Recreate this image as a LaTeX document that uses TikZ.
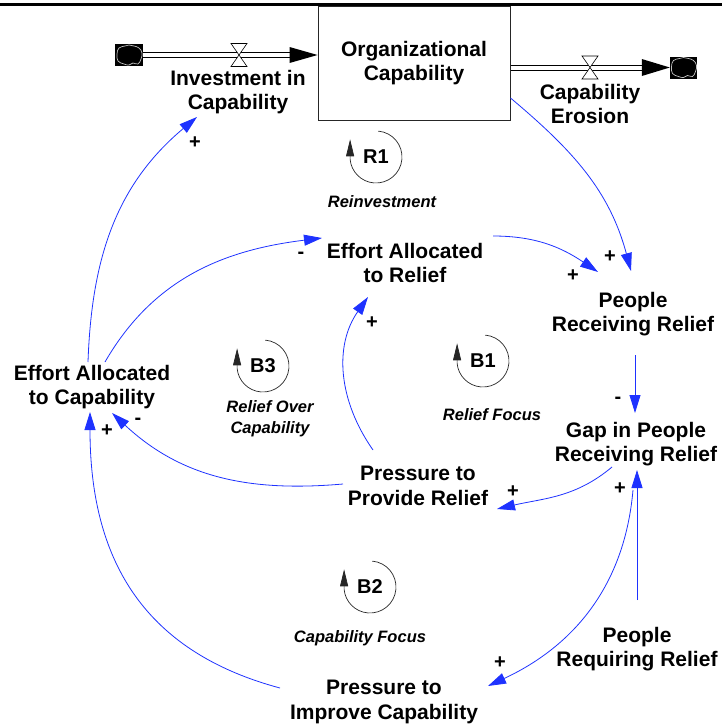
\documentclass[tikz,border=0pt]{standalone}
\usepackage{fontspec}
\setmainfont{Liberation Sans}
\usetikzlibrary{arrows.meta,calc}
\definecolor{linkblue}{RGB}{30,50,255}
\begin{document}
\begin{tikzpicture}[x=1pt,y=1pt,
  var/.style={font=\bfseries\fontsize{21}{24.5}\selectfont,align=center,inner sep=0pt},
  lbl/.style={font=\bfseries\itshape\fontsize{16.5}{21}\selectfont,align=center,inner sep=0pt},
  loopid/.style={font=\bfseries\fontsize{20}{24}\selectfont,inner sep=0pt},
  sgn/.style={font=\bfseries\fontsize{20}{24}\selectfont,inner sep=0pt},
  link/.style={draw=linkblue,line width=0.8pt,-{Triangle[length=18pt,width=11pt]}},
  loopline/.style={draw=black!85,line width=0.7pt,-{Triangle[length=17pt,width=8pt]}},
  pipeline/.style={draw=black,line width=0.8pt},
  valve/.style={draw=black,fill=white,line width=0.6pt},
  cloudbox/.style={fill=black,minimum width=28pt,minimum height=22pt,inner sep=0pt},
  puff/.style={draw=black!25,line width=0.7pt}
]
\useasboundingbox (0,0) rectangle (722,-728);
\draw[line width=3.4pt] (0,-4.3) -- (722,-4.3);

% stock
\node[var,draw=black!85,line width=1pt,minimum width=192pt,minimum height=114pt] (stock) at (414,-63) {Organizational\\Capability};

% clouds
\node[cloudbox] (cl) at (129,-55) {};
\node[cloudbox,minimum width=27pt] (cr) at (683.5,-67.5) {};
\foreach \c in {cl,cr}{
  \begin{scope}[shift={(\c.center)}]
    \draw[puff] plot[smooth cycle,tension=0.7] coordinates {(-12,1) (-10,7) (-4,9) (0,10) (5,9) (10,7) (13,2) (12,-4) (9,-9) (4,-8) (0,-10) (-5,-9) (-11,-6)};
  \end{scope}
}

% variables
\node[var] (inv) at (238,-92) {Investment in\\Capability};
\node[var] (ero) at (590,-104) {Capability\\Erosion};
\node[var] (ear) at (405,-263) {Effort Allocated\\to Relief};
\node[var] (prr) at (633,-314) {People\\Receiving Relief};
\node[var] (gap) at (636,-444) {Gap in People\\Receiving Relief};
\node[var] (ppr) at (418,-486) {Pressure to\\Provide Relief};
\node[var] (eac) at (92,-387) {Effort Allocated\\to Capability};
\node[var] (preq) at (637,-649) {People\\Requiring Relief};
\node[var] (pic) at (384,-702) {Pressure to\\Improve Capability};

% pipes
\coordinate (pL) at (cl.east -| stock.west);
\draw[pipeline] ([yshift=2.5]cl.east) -- ([shift={(-27,2.5)}]pL);
\draw[pipeline] ([yshift=-2.5]cl.east) -- ([shift={(-27,-2.5)}]pL);
\fill ([shift={(-28,8)}]pL) -- (pL) -- ([shift={(-28,-8)}]pL) -- cycle;
\coordinate (pR) at (stock.east |- cr.west);
\draw[pipeline] ([yshift=2.5]pR) -- ([shift={(-27,2.5)}]cr.west);
\draw[pipeline] ([yshift=-2.5]pR) -- ([shift={(-27,-2.5)}]cr.west);
\fill ([shift={(-28,8.5)}]cr.west) -- (cr.west) -- ([shift={(-28,-8.5)}]cr.west) -- cycle;

% valves
\coordinate (vL) at ([xshift=1]inv |- cl);
\coordinate (vR) at (ero |- cr);
\foreach \v in {vL,vR}{
  \draw[valve] ([shift={(-8,11.5)}]\v) -- ([shift={(8,11.5)}]\v) -- (\v) -- cycle;
  \draw[valve] ([shift={(-8,-11.5)}]\v) -- ([shift={(8,-11.5)}]\v) -- (\v) -- cycle;
}

% causal links
\draw[link] ([shift={(-4,25)}]eac.center) to[out=88,in=-140] ([shift={(-41,-25)}]inv.center);
\draw[link] ([shift={(13,25)}]eac.center) to[out=60,in=187] ([shift={(-83,25)}]ear.center);
\draw[link] ([shift={(88,27)}]ear.center) to[out=0,in=146] ([shift={(-35,42)}]prr.center);
\draw[link] ([shift={(0,-35)}]stock.east) to[out=-40,in=105] ([shift={(-2,43)}]prr.center);
\draw[link] ([shift={(2,-41)}]prr.center) -- ([shift={(-1,31)}]gap.center);
\draw[link] ([shift={(-24,-23)}]gap.center) to[out=-140,in=13] ([shift={(79,-23)}]ppr.center);
\draw[link] ([shift={(0,49)}]preq.center) -- ([shift={(1,-26)}]gap.center);
\draw[link] ([shift={(-3,-46)}]gap.center) to[out=-95,in=25] ([shift={(104,16)}]pic.center);
\draw[link] ([shift={(-104,14)}]pic.center) to[out=165,in=-90,looseness=1.1] ([shift={(-2,-25)}]eac.center);
\draw[link] ([shift={(-75,2)}]ppr.center) to[out=185,in=-43] ([shift={(20,-26)}]eac.center);
\draw[link] ([shift={(-45,36)}]ppr.center) to[out=125,in=-125] ([shift={(-37,-34)}]ear.center);

% polarities
\node[sgn] (s1) at (195,-143) {+};
\node[sgn] (s2) at (301,-255) {-};
\node[sgn] (s3) at (573,-276) {+};
\node[sgn] (s4) at (610,-257) {+};
\node[sgn] (s5) at (618,-400) {-};
\node[sgn] (s6) at (513,-492) {+};
\node[sgn] (s7) at (620,-489) {+};
\node[sgn] (s8) at (500,-663) {+};
\node[sgn] (s9) at (107,-431) {+};
\node[sgn] (s10) at (138,-421) {-};
\node[sgn] (s11) at (372,-323) {+};

% loops
\node[loopid] (r1) at (376,-157) {R1};
\node[loopid] (b3) at (263,-366) {B3};
\node[loopid] (b1) at (483,-361) {B1};
\node[loopid] (b2) at (370,-587) {B2};
\foreach \l in {r1,b3,b1,b2}{
  \draw[loopline] ([shift={(85:26)}]\l.center) arc[start angle=85,end angle=-175,radius=26] -- ++(0,20);
}
\node[lbl] (r1l) at (382,-202) {Reinvestment};
\node[lbl] (b3l) at (270,-419) {Relief Over\\Capability};
\node[lbl] (b1l) at (492,-415) {Relief Focus};
\node[lbl] (b2l) at (360,-638) {Capability Focus};
\end{tikzpicture}
\end{document}
